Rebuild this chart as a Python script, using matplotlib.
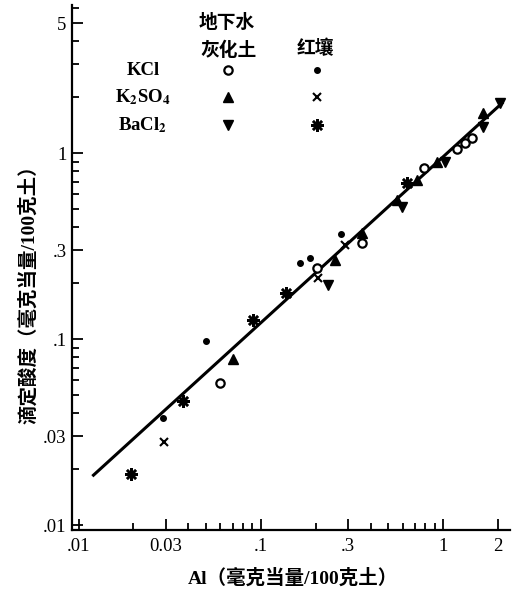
import matplotlib
matplotlib.use("Agg")
import matplotlib.pyplot as plt
from matplotlib.ticker import LogLocator, FixedLocator, FixedFormatter, NullFormatter

plt.rcParams['font.family'] = ['Liberation Serif', 'Noto Sans CJK SC']
plt.rcParams['mathtext.fontset'] = 'stix'

# 灰化土 (ground-water podzolic soil)
kcl_hh_x = [0.0595, 0.203, 0.359, 0.786, 1.19, 1.32, 1.44]
kcl_hh_y = [0.058, 0.241, 0.328, 0.830, 1.05, 1.13, 1.20]
k2so4_hh_x = [0.0702, 0.255, 0.359, 0.559, 0.720, 0.927, 1.66]
k2so4_hh_y = [0.078, 0.266, 0.371, 0.559, 0.716, 0.895, 1.64]
bacl2_hh_x = [0.233, 0.595, 1.026, 1.66, 2.06]
bacl2_hh_y = [0.195, 0.512, 0.895, 1.38, 1.86]

# 红壤 (red soil)
kcl_hr_x = [0.029, 0.0499, 0.164, 0.186, 0.275]
kcl_hr_y = [0.0376, 0.0975, 0.256, 0.272, 0.367]
k2so4_hr_x = [0.0293, 0.206, 0.289]
k2so4_hr_y = [0.0279, 0.213, 0.320]
bacl2_hr_x = [0.0195, 0.0373, 0.0904, 0.137, 0.634]
bacl2_hr_y = [0.0188, 0.0464, 0.1265, 0.177, 0.690]

# fitted line end points
fit_x = [0.0119, 2.14]
fit_y = [0.0183, 1.88]

x_ticks = [0.01, 0.03, 0.1, 0.3, 1, 2]
x_labels = ['.01', '0.03', '.1', '.3', '1', '2']
y_ticks = [0.01, 0.03, 0.1, 0.3, 1, 5]
y_labels = ['.01', '.03', '.1', '.3', '1', '5']

row_labels = ['KCl', r'K$_{\mathbf{2}}$SO$_{\mathbf{4}}$', r'BaCl$_{\mathbf{2}}$']

fig = plt.figure(figsize=(5.3, 5.97), dpi=100)
ax = fig.add_axes([0.1358, 0.1122, 0.8264, 0.8794])

ax.plot(fit_x, fit_y, color='black', lw=2.2, solid_capstyle='butt', zorder=2)

hh_style = [dict(marker='o', ms=6, mfc='white', mec='black', mew=1.6),
            dict(marker='^', ms=7.5, mfc='black', mec='black'),
            dict(marker='v', ms=7.5, mfc='black', mec='black')]
hr_style = [dict(marker='o', ms=4, mfc='black', mec='black'),
            dict(marker='x', ms=6, mec='black', mew=1.5),
            dict(marker=(8, 2, 0), ms=9, mec='black', mew=1.8)]

hh_data = [(kcl_hh_x, kcl_hh_y), (k2so4_hh_x, k2so4_hh_y), (bacl2_hh_x, bacl2_hh_y)]
hr_data = [(kcl_hr_x, kcl_hr_y), (k2so4_hr_x, k2so4_hr_y), (bacl2_hr_x, bacl2_hr_y)]

for (xs, ys), st in zip(hh_data, hh_style):
    ax.plot(xs, ys, ls='none', zorder=3, **st)
for (xs, ys), st in zip(hr_data, hr_style):
    ax.plot(xs, ys, ls='none', zorder=3, **st)

ax.set_xscale('log')
ax.set_yscale('log')
ax.set_xlim(0.0092, 2.33)
ax.set_ylim(0.0094, 6.25)

ax.xaxis.set_major_locator(FixedLocator(x_ticks))
ax.xaxis.set_major_formatter(FixedFormatter(x_labels))
ax.yaxis.set_major_locator(FixedLocator(y_ticks))
ax.yaxis.set_major_formatter(FixedFormatter(y_labels))
for a in (ax.xaxis, ax.yaxis):
    a.set_minor_locator(LogLocator(base=10, subs=range(2, 10)))
    a.set_minor_formatter(NullFormatter())

ax.tick_params(which='both', direction='in', width=1.3, labelsize=13.5)
ax.tick_params(which='major', length=8)
ax.tick_params(which='minor', length=5)
ax.tick_params(axis='x', pad=6)
ax.tick_params(axis='y', pad=4)

for s in ['top', 'right']:
    ax.spines[s].set_visible(False)
for s in ['left', 'bottom']:
    ax.spines[s].set_linewidth(1.6)

# legend laid out as a small table
col_x = [0.356, 0.559]
row_y = [0.876, 0.825, 0.771]
ax.text(0.354, 0.966, '地下水', transform=ax.transAxes, ha='center', va='center',
        fontsize=13.5, fontweight='bold')
ax.text(0.358, 0.912, '灰化土', transform=ax.transAxes, ha='center', va='center',
        fontsize=13.5, fontweight='bold')
ax.text(0.555, 0.916, '红壤', transform=ax.transAxes, ha='center', va='center',
        fontsize=13.5, fontweight='bold')
for i, lab in enumerate(row_labels):
    ax.text(0.162, row_y[i], lab, transform=ax.transAxes, ha='center', va='center',
            fontsize=13.5, fontweight='bold')
    ax.plot([col_x[0]], [row_y[i]], transform=ax.transAxes, ls='none', **hh_style[i])
    ax.plot([col_x[1]], [row_y[i]], transform=ax.transAxes, ls='none', **hr_style[i])

fig.text(0.053, 0.514, '滴定酸度（毫克当量/100克土）', rotation=90, ha='center', va='center',
         fontsize=14, fontweight='bold')
fig.text(0.553, 0.032, 'Al（毫克当量/100克土）', ha='center', va='center',
         fontsize=14, fontweight='bold')

fig.savefig('out.png', dpi=100)
